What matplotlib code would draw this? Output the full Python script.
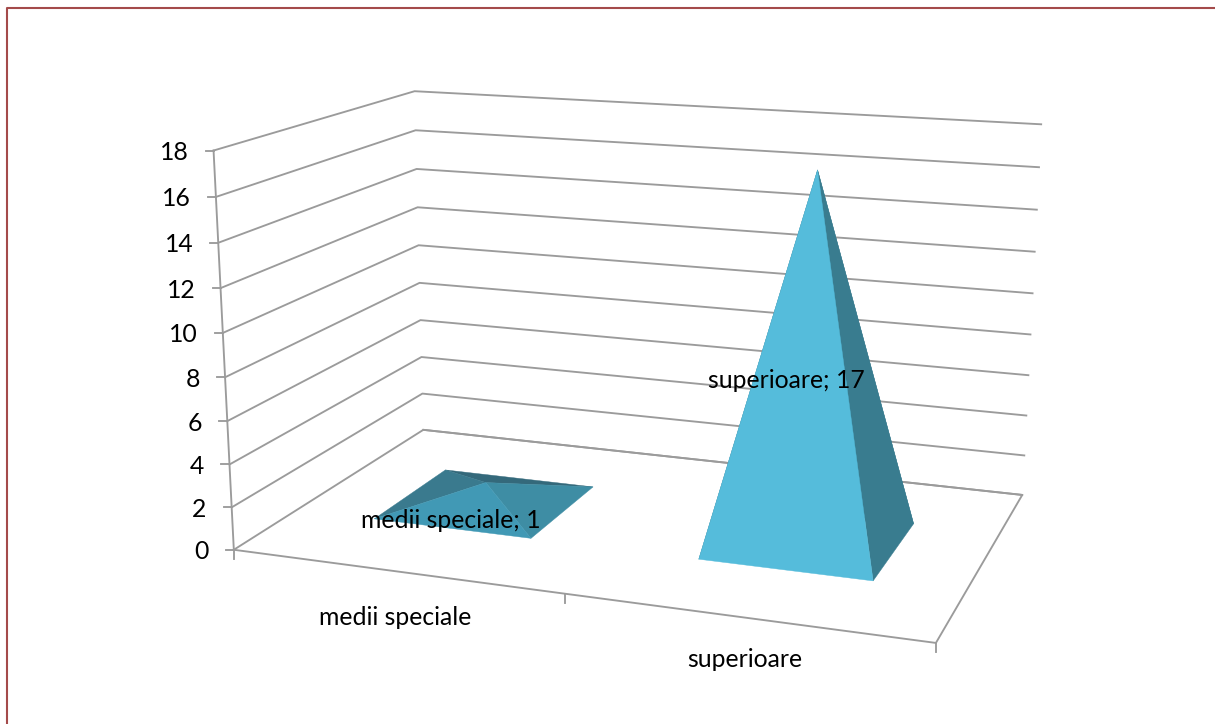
import numpy as np
import matplotlib
matplotlib.use("Agg")
import matplotlib.pyplot as plt
from matplotlib.patches import Polygon

categories = ["medii speciale", "superioare"]
values = [1, 17]
y_ticks = [0, 2, 4, 6, 8, 10, 12, 14, 16, 18]
y_max = 18

GRID = "#9b9b9b"
FRAME = "#a44b4b"

# face colours per pyramid: back, left, right, front (the shading differs with height)
face_colors = [
    ["#34697b", "#3a7a8e", "#3e8da4", "#4199b5"],
    ["#397c8f", "#397c8f", "#397c8f", "#55bcdb"],
]

# camera calibration: (category pos, depth, value) -> picture pixel
calib_src = [(0, 0, 0), (1, 0, 0), (1, 1, 0), (0, 1, 0),
             (0, 0, 18), (0, 1, 18), (1, 1, 18),
             (0.75, 0.5, 17), (0.25, 0.5, 1)]
calib_dst = [(233, 549), (936, 643), (1022, 495), (424, 430),
             (214, 151), (414, 91), (1041, 124),
             (818, 170), (486, 483)]


def fit_camera(src, dst):
    rows = []
    rhs = []
    for (u, v, z), (px, py) in zip(src, dst):
        z = z / y_max
        rows.append([u, v, z, 1, 0, 0, 0, 0, -px * u, -px * v, -px * z])
        rhs.append(px)
        rows.append([0, 0, 0, 0, u, v, z, 1, -py * u, -py * v, -py * z])
        rhs.append(py)
    m = np.linalg.lstsq(np.array(rows, float), np.array(rhs, float), rcond=None)[0]
    return np.append(m, 1).reshape(3, 4)


camera = fit_camera(calib_src, calib_dst)


def project(u, v, z):
    p = camera @ np.array([u, v, z / y_max, 1.0])
    return p[0] / p[2], p[1] / p[2]


def draw_walls(ax):
    for t in y_ticks:
        pts = [project(0, 0, t), project(0, 1, t), project(1, 1, t)]
        ax.plot(*zip(*pts), color=GRID, lw=1.35, zorder=1)
        x, y = pts[0]
        ax.plot([x - 8, x], [y, y], color=GRID, lw=1.35, zorder=1)
        ax.text(x - 25, y + 2, str(t), ha="right", va="center", fontsize=FS, zorder=5)
    ax.plot(*zip(project(0, 0, 0), project(0, 0, y_max)), color=GRID, lw=1.35, zorder=1)


def draw_floor(ax):
    pts = [project(0, 0, 0), project(1, 0, 0), project(1, 1, 0), project(0, 1, 0)]
    ax.plot(*zip(*pts), color=GRID, lw=1.35, zorder=1)
    for u in [0, 0.5, 1]:
        x, y = project(u, 0, 0)
        ax.plot([x, x], [y, y + 9], color=GRID, lw=1.35, zorder=1)


def draw_pyramid(ax, center, value, colors, half_u=0.124, half_v=0.2):
    fl = project(center - half_u, 0.5 - half_v, 0)
    fr = project(center + half_u, 0.5 - half_v, 0)
    br = project(center + half_u, 0.5 + half_v, 0)
    bl = project(center - half_u, 0.5 + half_v, 0)
    apex = project(center, 0.5, value)
    faces = [[bl, br, apex], [fl, bl, apex], [fr, br, apex], [fl, fr, apex]]
    for face, c in zip(faces, colors):
        ax.add_patch(Polygon(face, closed=True, facecolor=c, edgecolor=c, lw=0.3, zorder=3))


FS = 17.8

plt.rcParams["font.family"] = ["Lato", "DejaVu Sans"]
fig = plt.figure(figsize=(12.15, 7.24), dpi=100)
ax = fig.add_axes([0, 0, 1, 1])
ax.set_xlim(0, 1215)
ax.set_ylim(724, 0)
ax.axis("off")

# frame of the pasted chart, only left and top show in the crop
ax.plot([6.5, 6.5, 1215], [724, 7.5, 7.5], color=FRAME, lw=1.5, zorder=1)

draw_walls(ax)
draw_floor(ax)

centers = [0.25, 0.75]
cat_label_drop = [46, 42]
data_label_pos = [(451, 521), (786, 381)]

for i, name in enumerate(categories):
    draw_pyramid(ax, centers[i], values[i], face_colors[i])
    x, y = project(centers[i], 0, 0)
    ax.text(x, y + cat_label_drop[i], name, ha="center", va="center", fontsize=FS, zorder=5)
    ax.text(*data_label_pos[i], f"{name}; {values[i]}", ha="center", va="center",
            fontsize=FS, zorder=6)

fig.savefig("out.png", dpi=100)
